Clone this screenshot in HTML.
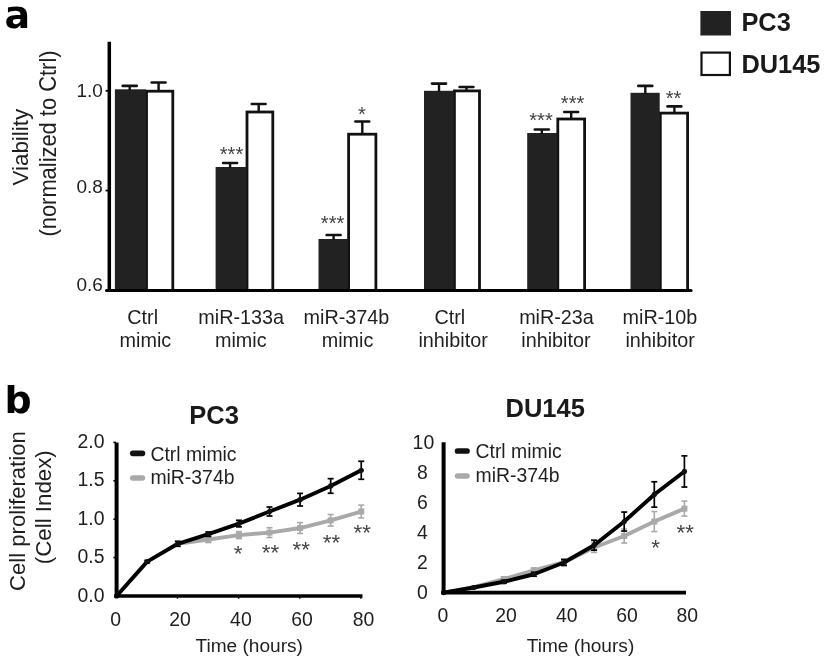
<!DOCTYPE html>
<html lang="en"><head><meta charset="utf-8"><title>Figure</title>
<style>
html,body{margin:0;padding:0;background:#fff;}
body{width:827px;height:663px;overflow:hidden;}
svg{display:block;filter:blur(0.45px);}
</style></head><body>
<svg width="827" height="663" viewBox="0 0 827 663">
<rect width="827" height="663" fill="#ffffff"/>
<text transform="translate(4.50,28.30) scale(1.000,1.000)" font-family='"DejaVu Sans", "Liberation Sans", sans-serif' font-size="38" font-weight="bold" text-anchor="start" fill="#000">a</text>
<text transform="translate(4.50,413.30) scale(1.000,1.000)" font-family='"DejaVu Sans", "Liberation Sans", sans-serif' font-size="38" font-weight="bold" text-anchor="start" fill="#000">b</text>
<rect x="146.50" y="91.20" width="26.30" height="199.30" fill="#fff" stroke="#111" stroke-width="2.8"/>
<rect x="114.90" y="89.30" width="31.00" height="201.20" fill="#222222"/>
<line x1="129.70" y1="85.90" x2="129.70" y2="90.30" stroke="#111" stroke-width="2.4" stroke-linecap="butt"/>
<line x1="122.70" y1="85.90" x2="136.70" y2="85.90" stroke="#111" stroke-width="2.6" stroke-linecap="round"/>
<line x1="158.60" y1="82.50" x2="158.60" y2="91.20" stroke="#111" stroke-width="2.4" stroke-linecap="butt"/>
<line x1="151.70" y1="82.50" x2="165.50" y2="82.50" stroke="#111" stroke-width="2.6" stroke-linecap="round"/>
<rect x="247.00" y="112.00" width="25.80" height="178.50" fill="#fff" stroke="#111" stroke-width="2.8"/>
<rect x="215.60" y="167.00" width="30.80" height="123.50" fill="#222222"/>
<line x1="230.10" y1="163.00" x2="230.10" y2="168.00" stroke="#111" stroke-width="2.4" stroke-linecap="butt"/>
<line x1="223.10" y1="163.00" x2="237.10" y2="163.00" stroke="#111" stroke-width="2.6" stroke-linecap="round"/>
<line x1="258.70" y1="104.00" x2="258.70" y2="112.00" stroke="#111" stroke-width="2.4" stroke-linecap="butt"/>
<line x1="251.80" y1="104.00" x2="265.60" y2="104.00" stroke="#111" stroke-width="2.6" stroke-linecap="round"/>
<rect x="348.60" y="134.20" width="27.30" height="156.30" fill="#fff" stroke="#111" stroke-width="2.8"/>
<rect x="318.50" y="239.00" width="29.50" height="51.50" fill="#222222"/>
<line x1="333.60" y1="235.00" x2="333.60" y2="240.00" stroke="#111" stroke-width="2.4" stroke-linecap="butt"/>
<line x1="326.60" y1="235.00" x2="340.60" y2="235.00" stroke="#111" stroke-width="2.6" stroke-linecap="round"/>
<line x1="362.30" y1="121.50" x2="362.30" y2="134.20" stroke="#111" stroke-width="2.4" stroke-linecap="butt"/>
<line x1="355.40" y1="121.50" x2="369.20" y2="121.50" stroke="#111" stroke-width="2.6" stroke-linecap="round"/>
<rect x="454.40" y="90.90" width="25.10" height="199.60" fill="#fff" stroke="#111" stroke-width="2.8"/>
<rect x="424.00" y="90.80" width="29.80" height="199.70" fill="#222222"/>
<line x1="439.00" y1="83.60" x2="439.00" y2="91.80" stroke="#111" stroke-width="2.4" stroke-linecap="butt"/>
<line x1="432.00" y1="83.60" x2="446.00" y2="83.60" stroke="#111" stroke-width="2.6" stroke-linecap="round"/>
<line x1="466.50" y1="87.00" x2="466.50" y2="90.90" stroke="#111" stroke-width="2.4" stroke-linecap="butt"/>
<line x1="459.60" y1="87.00" x2="473.40" y2="87.00" stroke="#111" stroke-width="2.6" stroke-linecap="round"/>
<rect x="557.80" y="119.00" width="26.80" height="171.50" fill="#fff" stroke="#111" stroke-width="2.8"/>
<rect x="527.20" y="133.00" width="30.00" height="157.50" fill="#222222"/>
<line x1="541.80" y1="129.50" x2="541.80" y2="134.00" stroke="#111" stroke-width="2.4" stroke-linecap="butt"/>
<line x1="534.80" y1="129.50" x2="548.80" y2="129.50" stroke="#111" stroke-width="2.6" stroke-linecap="round"/>
<line x1="571.20" y1="112.00" x2="571.20" y2="119.00" stroke="#111" stroke-width="2.4" stroke-linecap="butt"/>
<line x1="564.30" y1="112.00" x2="578.10" y2="112.00" stroke="#111" stroke-width="2.6" stroke-linecap="round"/>
<rect x="660.30" y="113.10" width="27.30" height="177.40" fill="#fff" stroke="#111" stroke-width="2.8"/>
<rect x="630.50" y="92.80" width="29.20" height="197.70" fill="#222222"/>
<line x1="645.30" y1="85.90" x2="645.30" y2="93.80" stroke="#111" stroke-width="2.4" stroke-linecap="butt"/>
<line x1="638.30" y1="85.90" x2="652.30" y2="85.90" stroke="#111" stroke-width="2.6" stroke-linecap="round"/>
<line x1="674.40" y1="106.40" x2="674.40" y2="113.10" stroke="#111" stroke-width="2.4" stroke-linecap="butt"/>
<line x1="667.50" y1="106.40" x2="681.30" y2="106.40" stroke="#111" stroke-width="2.6" stroke-linecap="round"/>
<line x1="109.30" y1="41.80" x2="109.30" y2="292.00" stroke="#000" stroke-width="3.5" stroke-linecap="butt"/>
<line x1="106.60" y1="290.50" x2="691.00" y2="290.50" stroke="#000" stroke-width="3.2" stroke-linecap="round"/>
<line x1="105.60" y1="90.80" x2="108.00" y2="90.80" stroke="#000" stroke-width="1.8" stroke-linecap="butt"/>
<line x1="105.60" y1="190.55" x2="108.00" y2="190.55" stroke="#000" stroke-width="1.8" stroke-linecap="butt"/>
<text transform="translate(102.80,97.40) scale(0.990,1.000)" font-family='"Liberation Sans", sans-serif' font-size="19.2" font-weight="normal" text-anchor="end" fill="#1f1f1f">1.0</text>
<text transform="translate(102.80,193.40) scale(0.990,1.000)" font-family='"Liberation Sans", sans-serif' font-size="19.2" font-weight="normal" text-anchor="end" fill="#1f1f1f">0.8</text>
<text transform="translate(102.80,290.50) scale(0.990,1.000)" font-family='"Liberation Sans", sans-serif' font-size="19.2" font-weight="normal" text-anchor="end" fill="#1f1f1f">0.6</text>
<text transform="translate(27.50,147.20) scale(1.000,1.000) rotate(-90)" font-family='"Liberation Sans", sans-serif' font-size="22.4" font-weight="normal" text-anchor="middle" fill="#1f1f1f">Viability</text>
<text transform="translate(55.60,143.50) scale(1.090,1.000) rotate(-90)" font-family='"Liberation Sans", sans-serif' font-size="21.9" font-weight="normal" text-anchor="middle" fill="#1f1f1f">(normalized to Ctrl)</text>
<text transform="translate(142.70,323.60) scale(1.000,1.000)" font-family='"Liberation Sans", sans-serif' font-size="19.8" font-weight="normal" text-anchor="middle" fill="#1f1f1f">Ctrl</text>
<text transform="translate(145.40,347.10) scale(1.000,1.000)" font-family='"Liberation Sans", sans-serif' font-size="19.8" font-weight="normal" text-anchor="middle" fill="#1f1f1f">mimic</text>
<text transform="translate(241.20,323.60) scale(1.000,1.000)" font-family='"Liberation Sans", sans-serif' font-size="19.8" font-weight="normal" text-anchor="middle" fill="#1f1f1f">miR-133a</text>
<text transform="translate(240.80,347.10) scale(1.000,1.000)" font-family='"Liberation Sans", sans-serif' font-size="19.8" font-weight="normal" text-anchor="middle" fill="#1f1f1f">mimic</text>
<text transform="translate(346.40,323.60) scale(1.000,1.000)" font-family='"Liberation Sans", sans-serif' font-size="19.8" font-weight="normal" text-anchor="middle" fill="#1f1f1f">miR-374b</text>
<text transform="translate(347.50,347.10) scale(1.000,1.000)" font-family='"Liberation Sans", sans-serif' font-size="19.8" font-weight="normal" text-anchor="middle" fill="#1f1f1f">mimic</text>
<text transform="translate(449.80,323.60) scale(1.000,1.000)" font-family='"Liberation Sans", sans-serif' font-size="19.8" font-weight="normal" text-anchor="middle" fill="#1f1f1f">Ctrl</text>
<text transform="translate(453.10,347.10) scale(1.000,1.000)" font-family='"Liberation Sans", sans-serif' font-size="19.8" font-weight="normal" text-anchor="middle" fill="#1f1f1f">inhibitor</text>
<text transform="translate(556.50,323.60) scale(1.000,1.000)" font-family='"Liberation Sans", sans-serif' font-size="19.8" font-weight="normal" text-anchor="middle" fill="#1f1f1f">miR-23a</text>
<text transform="translate(555.90,347.10) scale(1.000,1.000)" font-family='"Liberation Sans", sans-serif' font-size="19.8" font-weight="normal" text-anchor="middle" fill="#1f1f1f">inhibitor</text>
<text transform="translate(659.90,323.60) scale(1.000,1.000)" font-family='"Liberation Sans", sans-serif' font-size="19.8" font-weight="normal" text-anchor="middle" fill="#1f1f1f">miR-10b</text>
<text transform="translate(660.10,347.10) scale(1.000,1.000)" font-family='"Liberation Sans", sans-serif' font-size="19.8" font-weight="normal" text-anchor="middle" fill="#1f1f1f">inhibitor</text>
<text transform="translate(231.50,160.61) scale(1.000,1.000)" font-family='"Liberation Sans", sans-serif' font-size="20.2" font-weight="normal" text-anchor="middle" fill="#444444">***</text>
<text transform="translate(332.60,229.81) scale(1.000,1.000)" font-family='"Liberation Sans", sans-serif' font-size="20.2" font-weight="normal" text-anchor="middle" fill="#444444">***</text>
<text transform="translate(362.00,120.91) scale(1.000,1.000)" font-family='"Liberation Sans", sans-serif' font-size="20.2" font-weight="normal" text-anchor="middle" fill="#444444">*</text>
<text transform="translate(541.00,127.11) scale(1.000,1.000)" font-family='"Liberation Sans", sans-serif' font-size="20.2" font-weight="normal" text-anchor="middle" fill="#444444">***</text>
<text transform="translate(572.60,110.11) scale(1.000,1.000)" font-family='"Liberation Sans", sans-serif' font-size="20.2" font-weight="normal" text-anchor="middle" fill="#444444">***</text>
<text transform="translate(673.60,104.71) scale(1.000,1.000)" font-family='"Liberation Sans", sans-serif' font-size="20.2" font-weight="normal" text-anchor="middle" fill="#444444">**</text>
<rect x="700.40" y="11.00" width="30.60" height="24.50" fill="#222222"/>
<rect x="701.50" y="52.60" width="28.40" height="22.40" fill="#fff" stroke="#111" stroke-width="2.2"/>
<text transform="translate(741.40,30.60) scale(1.000,1.000)" font-family='"Liberation Sans", sans-serif' font-size="25.4" font-weight="bold" text-anchor="start" fill="#1a1a1a">PC3</text>
<text transform="translate(741.40,73.00) scale(1.000,1.000)" font-family='"Liberation Sans", sans-serif' font-size="25.4" font-weight="bold" text-anchor="start" fill="#1a1a1a">DU145</text>
<polyline points="177.76,543.78 208.34,539.55 238.92,535.10 269.50,532.64 300.08,528.03 330.66,520.35 361.24,511.52" fill="none" stroke="#a9a9a9" stroke-width="3.9" stroke-linejoin="round" stroke-linecap="round"/>
<line x1="208.34" y1="536.55" x2="208.34" y2="542.55" stroke="#a9a9a9" stroke-width="1.6" stroke-linecap="butt"/>
<line x1="205.34" y1="536.55" x2="211.34" y2="536.55" stroke="#a9a9a9" stroke-width="1.6" stroke-linecap="butt"/>
<line x1="205.34" y1="542.55" x2="211.34" y2="542.55" stroke="#a9a9a9" stroke-width="1.6" stroke-linecap="butt"/>
<rect x="205.34" y="536.55" width="6.00" height="6.00" fill="#a9a9a9"/>
<line x1="238.92" y1="531.60" x2="238.92" y2="538.60" stroke="#a9a9a9" stroke-width="1.6" stroke-linecap="butt"/>
<line x1="235.92" y1="531.60" x2="241.92" y2="531.60" stroke="#a9a9a9" stroke-width="1.6" stroke-linecap="butt"/>
<line x1="235.92" y1="538.60" x2="241.92" y2="538.60" stroke="#a9a9a9" stroke-width="1.6" stroke-linecap="butt"/>
<rect x="235.92" y="532.10" width="6.00" height="6.00" fill="#a9a9a9"/>
<line x1="269.50" y1="527.74" x2="269.50" y2="537.54" stroke="#a9a9a9" stroke-width="1.6" stroke-linecap="butt"/>
<line x1="266.50" y1="527.74" x2="272.50" y2="527.74" stroke="#a9a9a9" stroke-width="1.6" stroke-linecap="butt"/>
<line x1="266.50" y1="537.54" x2="272.50" y2="537.54" stroke="#a9a9a9" stroke-width="1.6" stroke-linecap="butt"/>
<rect x="266.50" y="529.64" width="6.00" height="6.00" fill="#a9a9a9"/>
<line x1="300.08" y1="522.63" x2="300.08" y2="533.43" stroke="#a9a9a9" stroke-width="1.6" stroke-linecap="butt"/>
<line x1="297.08" y1="522.63" x2="303.08" y2="522.63" stroke="#a9a9a9" stroke-width="1.6" stroke-linecap="butt"/>
<line x1="297.08" y1="533.43" x2="303.08" y2="533.43" stroke="#a9a9a9" stroke-width="1.6" stroke-linecap="butt"/>
<rect x="297.08" y="525.03" width="6.00" height="6.00" fill="#a9a9a9"/>
<line x1="330.66" y1="514.55" x2="330.66" y2="526.15" stroke="#a9a9a9" stroke-width="1.6" stroke-linecap="butt"/>
<line x1="327.66" y1="514.55" x2="333.66" y2="514.55" stroke="#a9a9a9" stroke-width="1.6" stroke-linecap="butt"/>
<line x1="327.66" y1="526.15" x2="333.66" y2="526.15" stroke="#a9a9a9" stroke-width="1.6" stroke-linecap="butt"/>
<rect x="327.66" y="517.35" width="6.00" height="6.00" fill="#a9a9a9"/>
<line x1="361.24" y1="505.12" x2="361.24" y2="517.92" stroke="#a9a9a9" stroke-width="1.6" stroke-linecap="butt"/>
<line x1="358.24" y1="505.12" x2="364.24" y2="505.12" stroke="#a9a9a9" stroke-width="1.6" stroke-linecap="butt"/>
<line x1="358.24" y1="517.92" x2="364.24" y2="517.92" stroke="#a9a9a9" stroke-width="1.6" stroke-linecap="butt"/>
<rect x="358.24" y="508.52" width="6.00" height="6.00" fill="#a9a9a9"/>
<polyline points="116.60,596.00 147.18,561.67 177.76,543.78 208.34,534.18 238.92,523.58 269.50,511.52 300.08,499.69 330.66,485.95 361.24,470.28" fill="none" stroke="#000" stroke-width="3.9" stroke-linejoin="round" stroke-linecap="round"/>
<circle cx="116.60" cy="596.00" r="2.6" fill="#111"/>
<line x1="147.18" y1="560.47" x2="147.18" y2="562.87" stroke="#000" stroke-width="1.7" stroke-linecap="butt"/>
<line x1="144.18" y1="560.47" x2="150.18" y2="560.47" stroke="#000" stroke-width="1.7" stroke-linecap="butt"/>
<line x1="144.18" y1="562.87" x2="150.18" y2="562.87" stroke="#000" stroke-width="1.7" stroke-linecap="butt"/>
<circle cx="147.18" cy="561.67" r="2.6" fill="#111"/>
<line x1="177.76" y1="541.28" x2="177.76" y2="546.28" stroke="#000" stroke-width="1.7" stroke-linecap="butt"/>
<line x1="174.76" y1="541.28" x2="180.76" y2="541.28" stroke="#000" stroke-width="1.7" stroke-linecap="butt"/>
<line x1="174.76" y1="546.28" x2="180.76" y2="546.28" stroke="#000" stroke-width="1.7" stroke-linecap="butt"/>
<circle cx="177.76" cy="543.78" r="2.6" fill="#111"/>
<line x1="208.34" y1="531.98" x2="208.34" y2="536.38" stroke="#000" stroke-width="1.7" stroke-linecap="butt"/>
<line x1="205.34" y1="531.98" x2="211.34" y2="531.98" stroke="#000" stroke-width="1.7" stroke-linecap="butt"/>
<line x1="205.34" y1="536.38" x2="211.34" y2="536.38" stroke="#000" stroke-width="1.7" stroke-linecap="butt"/>
<circle cx="208.34" cy="534.18" r="2.6" fill="#111"/>
<line x1="238.92" y1="520.28" x2="238.92" y2="526.88" stroke="#000" stroke-width="1.7" stroke-linecap="butt"/>
<line x1="235.92" y1="520.28" x2="241.92" y2="520.28" stroke="#000" stroke-width="1.7" stroke-linecap="butt"/>
<line x1="235.92" y1="526.88" x2="241.92" y2="526.88" stroke="#000" stroke-width="1.7" stroke-linecap="butt"/>
<circle cx="238.92" cy="523.58" r="2.6" fill="#111"/>
<line x1="269.50" y1="507.02" x2="269.50" y2="516.02" stroke="#000" stroke-width="1.7" stroke-linecap="butt"/>
<line x1="266.50" y1="507.02" x2="272.50" y2="507.02" stroke="#000" stroke-width="1.7" stroke-linecap="butt"/>
<line x1="266.50" y1="516.02" x2="272.50" y2="516.02" stroke="#000" stroke-width="1.7" stroke-linecap="butt"/>
<circle cx="269.50" cy="511.52" r="2.6" fill="#111"/>
<line x1="300.08" y1="493.39" x2="300.08" y2="505.99" stroke="#000" stroke-width="1.7" stroke-linecap="butt"/>
<line x1="297.08" y1="493.39" x2="303.08" y2="493.39" stroke="#000" stroke-width="1.7" stroke-linecap="butt"/>
<line x1="297.08" y1="505.99" x2="303.08" y2="505.99" stroke="#000" stroke-width="1.7" stroke-linecap="butt"/>
<circle cx="300.08" cy="499.69" r="2.6" fill="#111"/>
<line x1="330.66" y1="478.65" x2="330.66" y2="493.25" stroke="#000" stroke-width="1.7" stroke-linecap="butt"/>
<line x1="327.66" y1="478.65" x2="333.66" y2="478.65" stroke="#000" stroke-width="1.7" stroke-linecap="butt"/>
<line x1="327.66" y1="493.25" x2="333.66" y2="493.25" stroke="#000" stroke-width="1.7" stroke-linecap="butt"/>
<circle cx="330.66" cy="485.95" r="2.6" fill="#111"/>
<line x1="361.24" y1="461.28" x2="361.24" y2="479.28" stroke="#000" stroke-width="1.7" stroke-linecap="butt"/>
<line x1="358.24" y1="461.28" x2="364.24" y2="461.28" stroke="#000" stroke-width="1.7" stroke-linecap="butt"/>
<line x1="358.24" y1="479.28" x2="364.24" y2="479.28" stroke="#000" stroke-width="1.7" stroke-linecap="butt"/>
<circle cx="361.24" cy="470.28" r="2.6" fill="#111"/>
<line x1="116.60" y1="442.40" x2="116.60" y2="597.80" stroke="#000" stroke-width="4.0" stroke-linecap="butt"/>
<line x1="114.60" y1="596.00" x2="362.50" y2="596.00" stroke="#000" stroke-width="3.6" stroke-linecap="butt"/>
<line x1="113.40" y1="557.60" x2="116.00" y2="557.60" stroke="#000" stroke-width="1.6" stroke-linecap="butt"/>
<line x1="113.40" y1="519.20" x2="116.00" y2="519.20" stroke="#000" stroke-width="1.6" stroke-linecap="butt"/>
<line x1="113.40" y1="480.80" x2="116.00" y2="480.80" stroke="#000" stroke-width="1.6" stroke-linecap="butt"/>
<line x1="113.40" y1="442.40" x2="116.00" y2="442.40" stroke="#000" stroke-width="1.6" stroke-linecap="butt"/>
<line x1="177.52" y1="596.00" x2="177.52" y2="598.80" stroke="#000" stroke-width="1.4" stroke-linecap="butt"/>
<line x1="238.64" y1="596.00" x2="238.64" y2="598.80" stroke="#000" stroke-width="1.4" stroke-linecap="butt"/>
<line x1="299.76" y1="596.00" x2="299.76" y2="598.80" stroke="#000" stroke-width="1.4" stroke-linecap="butt"/>
<line x1="360.88" y1="596.00" x2="360.88" y2="598.80" stroke="#000" stroke-width="1.4" stroke-linecap="butt"/>
<text transform="translate(104.50,601.60) scale(1.000,1.000)" font-family='"Liberation Sans", sans-serif' font-size="19.4" font-weight="normal" text-anchor="end" fill="#1f1f1f">0.0</text>
<text transform="translate(104.50,563.20) scale(1.000,1.000)" font-family='"Liberation Sans", sans-serif' font-size="19.4" font-weight="normal" text-anchor="end" fill="#1f1f1f">0.5</text>
<text transform="translate(104.50,524.80) scale(1.000,1.000)" font-family='"Liberation Sans", sans-serif' font-size="19.4" font-weight="normal" text-anchor="end" fill="#1f1f1f">1.0</text>
<text transform="translate(104.50,486.40) scale(1.000,1.000)" font-family='"Liberation Sans", sans-serif' font-size="19.4" font-weight="normal" text-anchor="end" fill="#1f1f1f">1.5</text>
<text transform="translate(104.50,448.00) scale(1.000,1.000)" font-family='"Liberation Sans", sans-serif' font-size="19.4" font-weight="normal" text-anchor="end" fill="#1f1f1f">2.0</text>
<text transform="translate(115.60,625.70) scale(1.000,1.000)" font-family='"Liberation Sans", sans-serif' font-size="19.4" font-weight="normal" text-anchor="middle" fill="#1f1f1f">0</text>
<text transform="translate(180.00,625.70) scale(1.000,1.000)" font-family='"Liberation Sans", sans-serif' font-size="19.4" font-weight="normal" text-anchor="middle" fill="#1f1f1f">20</text>
<text transform="translate(240.90,625.70) scale(1.000,1.000)" font-family='"Liberation Sans", sans-serif' font-size="19.4" font-weight="normal" text-anchor="middle" fill="#1f1f1f">40</text>
<text transform="translate(302.10,625.70) scale(1.000,1.000)" font-family='"Liberation Sans", sans-serif' font-size="19.4" font-weight="normal" text-anchor="middle" fill="#1f1f1f">60</text>
<text transform="translate(363.50,625.70) scale(1.000,1.000)" font-family='"Liberation Sans", sans-serif' font-size="19.4" font-weight="normal" text-anchor="middle" fill="#1f1f1f">80</text>
<text transform="translate(249.20,652.10) scale(1.000,1.000)" font-family='"Liberation Sans", sans-serif' font-size="19.1" font-weight="normal" text-anchor="middle" fill="#1f1f1f">Time (hours)</text>
<text transform="translate(214.10,423.80) scale(1.000,1.000)" font-family='"Liberation Sans", sans-serif' font-size="25.5" font-weight="bold" text-anchor="middle" fill="#1a1a1a">PC3</text>
<line x1="132.80" y1="453.30" x2="142.40" y2="453.30" stroke="#111" stroke-width="5.7" stroke-linecap="round"/>
<line x1="132.80" y1="478.00" x2="142.40" y2="478.00" stroke="#a9a9a9" stroke-width="5.6" stroke-linecap="round"/>
<text transform="translate(150.40,461.10) scale(1.000,1.000)" font-family='"Liberation Sans", sans-serif' font-size="19.4" font-weight="normal" text-anchor="start" fill="#1f1f1f">Ctrl mimic</text>
<text transform="translate(150.40,483.50) scale(1.000,1.000)" font-family='"Liberation Sans", sans-serif' font-size="19.4" font-weight="normal" text-anchor="start" fill="#1f1f1f">miR-374b</text>
<text transform="translate(24.90,511.10) scale(1.030,1.000) rotate(-90)" font-family='"Liberation Sans", sans-serif' font-size="22.1" font-weight="normal" text-anchor="middle" fill="#1f1f1f">Cell proliferation</text>
<text transform="translate(51.30,507.20) scale(0.980,1.000) rotate(-90)" font-family='"Liberation Sans", sans-serif' font-size="22.3" font-weight="normal" text-anchor="middle" fill="#1f1f1f">(Cell Index)</text>
<text transform="translate(238.00,561.27) scale(1.000,1.000)" font-family='"Liberation Sans", sans-serif' font-size="22.4" font-weight="normal" text-anchor="middle" fill="#444444">*</text>
<text transform="translate(270.50,559.97) scale(1.000,1.000)" font-family='"Liberation Sans", sans-serif' font-size="22.4" font-weight="normal" text-anchor="middle" fill="#444444">**</text>
<text transform="translate(301.30,556.97) scale(1.000,1.000)" font-family='"Liberation Sans", sans-serif' font-size="22.4" font-weight="normal" text-anchor="middle" fill="#444444">**</text>
<text transform="translate(331.50,549.97) scale(1.000,1.000)" font-family='"Liberation Sans", sans-serif' font-size="22.4" font-weight="normal" text-anchor="middle" fill="#444444">**</text>
<text transform="translate(362.30,540.27) scale(1.000,1.000)" font-family='"Liberation Sans", sans-serif' font-size="22.4" font-weight="normal" text-anchor="middle" fill="#444444">**</text>
<polyline points="443.60,592.60 473.70,587.18 503.80,579.06 533.90,570.48 564.00,562.20 594.10,547.45 624.20,536.01 654.30,521.56 684.40,508.62" fill="none" stroke="#a9a9a9" stroke-width="3.9" stroke-linejoin="round" stroke-linecap="round"/>
<line x1="503.80" y1="576.86" x2="503.80" y2="581.26" stroke="#a9a9a9" stroke-width="1.6" stroke-linecap="butt"/>
<line x1="500.80" y1="576.86" x2="506.80" y2="576.86" stroke="#a9a9a9" stroke-width="1.6" stroke-linecap="butt"/>
<line x1="500.80" y1="581.26" x2="506.80" y2="581.26" stroke="#a9a9a9" stroke-width="1.6" stroke-linecap="butt"/>
<rect x="500.80" y="576.06" width="6.00" height="6.00" fill="#a9a9a9"/>
<line x1="533.90" y1="567.88" x2="533.90" y2="573.08" stroke="#a9a9a9" stroke-width="1.6" stroke-linecap="butt"/>
<line x1="530.90" y1="567.88" x2="536.90" y2="567.88" stroke="#a9a9a9" stroke-width="1.6" stroke-linecap="butt"/>
<line x1="530.90" y1="573.08" x2="536.90" y2="573.08" stroke="#a9a9a9" stroke-width="1.6" stroke-linecap="butt"/>
<rect x="530.90" y="567.48" width="6.00" height="6.00" fill="#a9a9a9"/>
<line x1="564.00" y1="559.20" x2="564.00" y2="565.20" stroke="#a9a9a9" stroke-width="1.6" stroke-linecap="butt"/>
<line x1="561.00" y1="559.20" x2="567.00" y2="559.20" stroke="#a9a9a9" stroke-width="1.6" stroke-linecap="butt"/>
<line x1="561.00" y1="565.20" x2="567.00" y2="565.20" stroke="#a9a9a9" stroke-width="1.6" stroke-linecap="butt"/>
<rect x="561.00" y="559.20" width="6.00" height="6.00" fill="#a9a9a9"/>
<line x1="594.10" y1="542.45" x2="594.10" y2="552.45" stroke="#a9a9a9" stroke-width="1.6" stroke-linecap="butt"/>
<line x1="591.10" y1="542.45" x2="597.10" y2="542.45" stroke="#a9a9a9" stroke-width="1.6" stroke-linecap="butt"/>
<line x1="591.10" y1="552.45" x2="597.10" y2="552.45" stroke="#a9a9a9" stroke-width="1.6" stroke-linecap="butt"/>
<rect x="591.10" y="544.45" width="6.00" height="6.00" fill="#a9a9a9"/>
<line x1="624.20" y1="529.01" x2="624.20" y2="543.01" stroke="#a9a9a9" stroke-width="1.6" stroke-linecap="butt"/>
<line x1="621.20" y1="529.01" x2="627.20" y2="529.01" stroke="#a9a9a9" stroke-width="1.6" stroke-linecap="butt"/>
<line x1="621.20" y1="543.01" x2="627.20" y2="543.01" stroke="#a9a9a9" stroke-width="1.6" stroke-linecap="butt"/>
<rect x="621.20" y="533.01" width="6.00" height="6.00" fill="#a9a9a9"/>
<line x1="654.30" y1="511.56" x2="654.30" y2="531.56" stroke="#a9a9a9" stroke-width="1.6" stroke-linecap="butt"/>
<line x1="651.30" y1="511.56" x2="657.30" y2="511.56" stroke="#a9a9a9" stroke-width="1.6" stroke-linecap="butt"/>
<line x1="651.30" y1="531.56" x2="657.30" y2="531.56" stroke="#a9a9a9" stroke-width="1.6" stroke-linecap="butt"/>
<rect x="651.30" y="518.56" width="6.00" height="6.00" fill="#a9a9a9"/>
<line x1="684.40" y1="501.12" x2="684.40" y2="516.12" stroke="#a9a9a9" stroke-width="1.6" stroke-linecap="butt"/>
<line x1="681.40" y1="501.12" x2="687.40" y2="501.12" stroke="#a9a9a9" stroke-width="1.6" stroke-linecap="butt"/>
<line x1="681.40" y1="516.12" x2="687.40" y2="516.12" stroke="#a9a9a9" stroke-width="1.6" stroke-linecap="butt"/>
<rect x="681.40" y="505.62" width="6.00" height="6.00" fill="#a9a9a9"/>
<polyline points="443.60,592.60 473.70,587.48 503.80,581.76 533.90,574.24 564.00,562.50 594.10,545.19 624.20,521.56 654.30,494.47 684.40,471.45" fill="none" stroke="#000" stroke-width="3.9" stroke-linejoin="round" stroke-linecap="round"/>
<circle cx="443.60" cy="592.60" r="2.6" fill="#111"/>
<line x1="473.70" y1="586.68" x2="473.70" y2="588.28" stroke="#000" stroke-width="1.7" stroke-linecap="butt"/>
<line x1="470.70" y1="586.68" x2="476.70" y2="586.68" stroke="#000" stroke-width="1.7" stroke-linecap="butt"/>
<line x1="470.70" y1="588.28" x2="476.70" y2="588.28" stroke="#000" stroke-width="1.7" stroke-linecap="butt"/>
<circle cx="473.70" cy="587.48" r="2.6" fill="#111"/>
<line x1="503.80" y1="580.26" x2="503.80" y2="583.26" stroke="#000" stroke-width="1.7" stroke-linecap="butt"/>
<line x1="500.80" y1="580.26" x2="506.80" y2="580.26" stroke="#000" stroke-width="1.7" stroke-linecap="butt"/>
<line x1="500.80" y1="583.26" x2="506.80" y2="583.26" stroke="#000" stroke-width="1.7" stroke-linecap="butt"/>
<circle cx="503.80" cy="581.76" r="2.6" fill="#111"/>
<line x1="533.90" y1="572.24" x2="533.90" y2="576.24" stroke="#000" stroke-width="1.7" stroke-linecap="butt"/>
<line x1="530.90" y1="572.24" x2="536.90" y2="572.24" stroke="#000" stroke-width="1.7" stroke-linecap="butt"/>
<line x1="530.90" y1="576.24" x2="536.90" y2="576.24" stroke="#000" stroke-width="1.7" stroke-linecap="butt"/>
<circle cx="533.90" cy="574.24" r="2.6" fill="#111"/>
<line x1="564.00" y1="559.50" x2="564.00" y2="565.50" stroke="#000" stroke-width="1.7" stroke-linecap="butt"/>
<line x1="561.00" y1="559.50" x2="567.00" y2="559.50" stroke="#000" stroke-width="1.7" stroke-linecap="butt"/>
<line x1="561.00" y1="565.50" x2="567.00" y2="565.50" stroke="#000" stroke-width="1.7" stroke-linecap="butt"/>
<circle cx="564.00" cy="562.50" r="2.6" fill="#111"/>
<line x1="594.10" y1="540.19" x2="594.10" y2="550.19" stroke="#000" stroke-width="1.7" stroke-linecap="butt"/>
<line x1="591.10" y1="540.19" x2="597.10" y2="540.19" stroke="#000" stroke-width="1.7" stroke-linecap="butt"/>
<line x1="591.10" y1="550.19" x2="597.10" y2="550.19" stroke="#000" stroke-width="1.7" stroke-linecap="butt"/>
<circle cx="594.10" cy="545.19" r="2.6" fill="#111"/>
<line x1="624.20" y1="512.06" x2="624.20" y2="531.06" stroke="#000" stroke-width="1.7" stroke-linecap="butt"/>
<line x1="621.20" y1="512.06" x2="627.20" y2="512.06" stroke="#000" stroke-width="1.7" stroke-linecap="butt"/>
<line x1="621.20" y1="531.06" x2="627.20" y2="531.06" stroke="#000" stroke-width="1.7" stroke-linecap="butt"/>
<circle cx="624.20" cy="521.56" r="2.6" fill="#111"/>
<line x1="654.30" y1="481.77" x2="654.30" y2="507.17" stroke="#000" stroke-width="1.7" stroke-linecap="butt"/>
<line x1="651.30" y1="481.77" x2="657.30" y2="481.77" stroke="#000" stroke-width="1.7" stroke-linecap="butt"/>
<line x1="651.30" y1="507.17" x2="657.30" y2="507.17" stroke="#000" stroke-width="1.7" stroke-linecap="butt"/>
<circle cx="654.30" cy="494.47" r="2.6" fill="#111"/>
<line x1="684.40" y1="455.85" x2="684.40" y2="487.05" stroke="#000" stroke-width="1.7" stroke-linecap="butt"/>
<line x1="681.40" y1="455.85" x2="687.40" y2="455.85" stroke="#000" stroke-width="1.7" stroke-linecap="butt"/>
<line x1="681.40" y1="487.05" x2="687.40" y2="487.05" stroke="#000" stroke-width="1.7" stroke-linecap="butt"/>
<circle cx="684.40" cy="471.45" r="2.6" fill="#111"/>
<line x1="443.60" y1="442.30" x2="443.60" y2="594.40" stroke="#000" stroke-width="4.0" stroke-linecap="butt"/>
<line x1="441.60" y1="592.60" x2="686.00" y2="592.60" stroke="#000" stroke-width="3.6" stroke-linecap="butt"/>
<text transform="translate(422.40,599.40) scale(1.000,1.000)" font-family='"Liberation Sans", sans-serif' font-size="19.4" font-weight="normal" text-anchor="middle" fill="#1f1f1f">0</text>
<text transform="translate(422.40,569.30) scale(1.000,1.000)" font-family='"Liberation Sans", sans-serif' font-size="19.4" font-weight="normal" text-anchor="middle" fill="#1f1f1f">2</text>
<text transform="translate(422.40,539.20) scale(1.000,1.000)" font-family='"Liberation Sans", sans-serif' font-size="19.4" font-weight="normal" text-anchor="middle" fill="#1f1f1f">4</text>
<text transform="translate(422.40,509.10) scale(1.000,1.000)" font-family='"Liberation Sans", sans-serif' font-size="19.4" font-weight="normal" text-anchor="middle" fill="#1f1f1f">6</text>
<text transform="translate(422.40,479.00) scale(1.000,1.000)" font-family='"Liberation Sans", sans-serif' font-size="19.4" font-weight="normal" text-anchor="middle" fill="#1f1f1f">8</text>
<text transform="translate(423.40,448.90) scale(1.000,1.000)" font-family='"Liberation Sans", sans-serif' font-size="19.4" font-weight="normal" text-anchor="middle" fill="#1f1f1f">10</text>
<text transform="translate(443.00,622.00) scale(1.000,1.000)" font-family='"Liberation Sans", sans-serif' font-size="19.4" font-weight="normal" text-anchor="middle" fill="#1f1f1f">0</text>
<text transform="translate(506.10,622.00) scale(1.000,1.000)" font-family='"Liberation Sans", sans-serif' font-size="19.4" font-weight="normal" text-anchor="middle" fill="#1f1f1f">20</text>
<text transform="translate(566.70,622.00) scale(1.000,1.000)" font-family='"Liberation Sans", sans-serif' font-size="19.4" font-weight="normal" text-anchor="middle" fill="#1f1f1f">40</text>
<text transform="translate(627.10,622.00) scale(1.000,1.000)" font-family='"Liberation Sans", sans-serif' font-size="19.4" font-weight="normal" text-anchor="middle" fill="#1f1f1f">60</text>
<text transform="translate(687.30,622.00) scale(1.000,1.000)" font-family='"Liberation Sans", sans-serif' font-size="19.4" font-weight="normal" text-anchor="middle" fill="#1f1f1f">80</text>
<text transform="translate(580.50,652.20) scale(1.000,1.000)" font-family='"Liberation Sans", sans-serif' font-size="19.1" font-weight="normal" text-anchor="middle" fill="#1f1f1f">Time (hours)</text>
<text transform="translate(545.20,416.90) scale(1.000,1.000)" font-family='"Liberation Sans", sans-serif' font-size="25.5" font-weight="bold" text-anchor="middle" fill="#1a1a1a">DU145</text>
<line x1="457.60" y1="451.00" x2="467.00" y2="451.00" stroke="#111" stroke-width="5.7" stroke-linecap="round"/>
<line x1="457.60" y1="476.00" x2="467.00" y2="476.00" stroke="#a9a9a9" stroke-width="5.6" stroke-linecap="round"/>
<text transform="translate(475.50,458.30) scale(1.000,1.000)" font-family='"Liberation Sans", sans-serif' font-size="19.4" font-weight="normal" text-anchor="start" fill="#1f1f1f">Ctrl mimic</text>
<text transform="translate(475.50,481.80) scale(1.000,1.000)" font-family='"Liberation Sans", sans-serif' font-size="19.4" font-weight="normal" text-anchor="start" fill="#1f1f1f">miR-374b</text>
<text transform="translate(655.50,554.57) scale(1.000,1.000)" font-family='"Liberation Sans", sans-serif' font-size="22.4" font-weight="normal" text-anchor="middle" fill="#444444">*</text>
<text transform="translate(685.30,540.27) scale(1.000,1.000)" font-family='"Liberation Sans", sans-serif' font-size="22.4" font-weight="normal" text-anchor="middle" fill="#444444">**</text>
</svg>
</body></html>
